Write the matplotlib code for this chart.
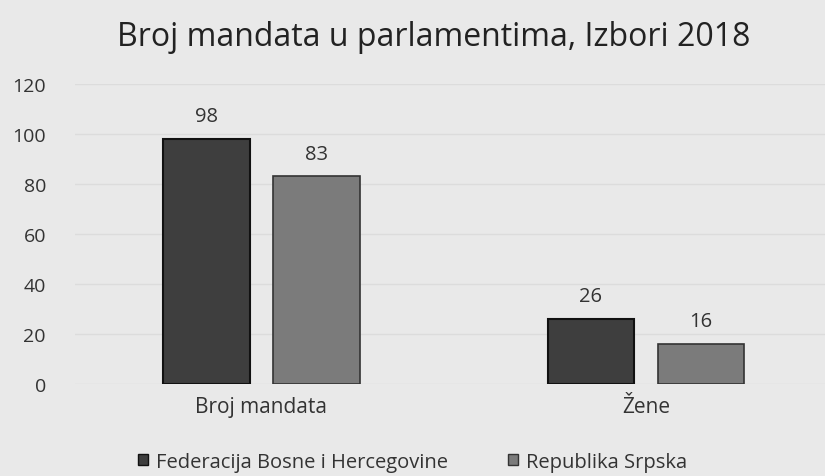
import numpy as np
import matplotlib.pyplot as plt
from matplotlib.patches import Patch

categories = ['Broj mandata', 'Žene']
series = ['Federacija Bosne i Hercegovine', 'Republika Srpska']
fbih = [98, 26]
rs = [83, 16]
yticks = [0, 20, 40, 60, 80, 100, 120]

plt.rcParams['font.family'] = ['Open Sans', 'DejaVu Sans']

bg = '#e9e9e9'
fig = plt.figure(figsize=(8.25, 4.77), dpi=100, facecolor=bg)
ax = fig.add_axes([0.091, 0.193, 0.909, 0.629])
ax.set_facecolor(bg)

x = np.arange(len(categories))
w = 0.224
off = 0.143
b1 = ax.bar(x - off, fbih, w, color='#3e3e3e', edgecolor='#111111', linewidth=1.5)
b2 = ax.bar(x + off, rs, w, color='#7b7b7b', edgecolor='#333333', linewidth=1.2)

for bars in (b1, b2):
    for r in bars:
        ax.text(r.get_x() + r.get_width() / 2, r.get_height() + 5, str(int(r.get_height())),
                ha='center', va='bottom', fontsize=14.5, color='#333333')

ax.set_ylim(0, 120)
ax.set_xlim(-0.485, 1.466)
ax.set_yticks(yticks)
ax.set_yticklabels([str(v) for v in yticks], fontsize=14, color='#333333')
ax.yaxis.grid(True, color='#dcdcdc', linewidth=1)
ax.set_axisbelow(True)
ax.tick_params(axis='y', length=0, pad=21)
ax.tick_params(axis='x', length=0, pad=9)
ax.set_xticks(x)
ax.set_xticklabels(categories, fontsize=15, color='#333333')
for s in ax.spines.values():
    s.set_visible(False)

fig.text(0.526, 0.922, 'Broj mandata u parlamentima, Izbori 2018', ha='center', va='center',
         fontsize=23, color='#222222')

handles = [Patch(facecolor='#3e3e3e', edgecolor='#111111'),
           Patch(facecolor='#7b7b7b', edgecolor='#333333')]
fig.legend(handles, series, loc='center', bbox_to_anchor=(0.5, 0.03), ncol=2, frameon=False,
           fontsize=14.5, handlelength=0.5, handleheight=0.5, handletextpad=0.4, columnspacing=3.0,
           labelcolor='#333333')

fig.savefig('out.png', dpi=100, facecolor=bg)
